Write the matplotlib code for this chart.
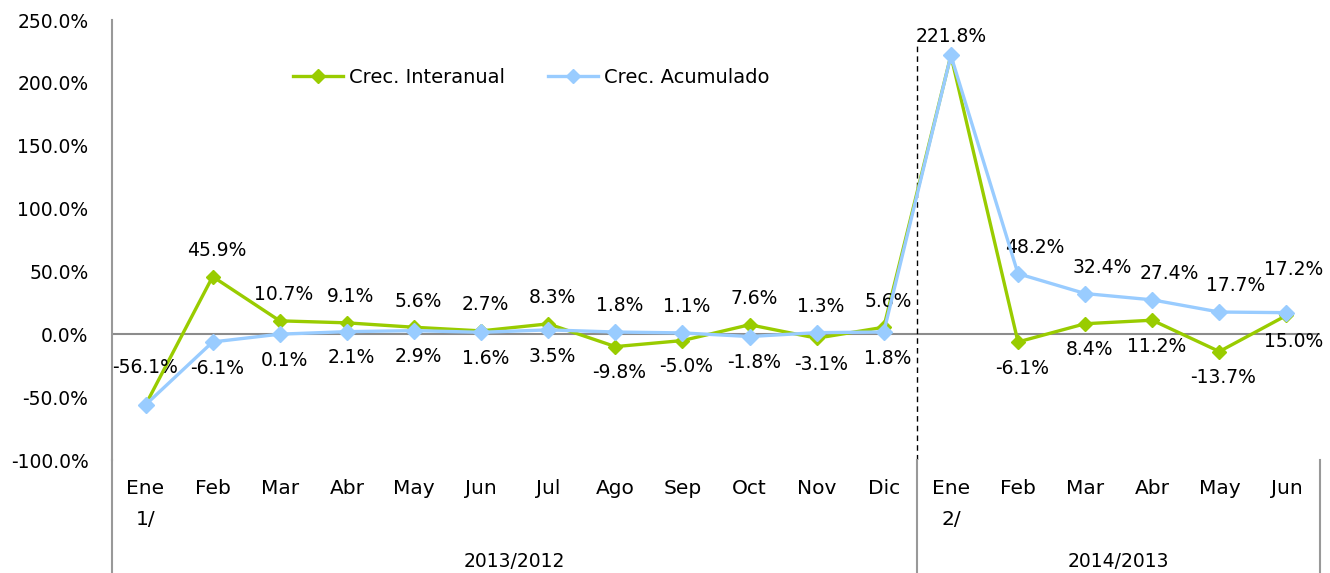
import numpy as np
import matplotlib
matplotlib.use("Agg")
import matplotlib.pyplot as plt
from matplotlib.ticker import FuncFormatter
from matplotlib.lines import Line2D

# Data
months = ["Ene\n1/", "Feb", "Mar", "Abr", "May", "Jun", "Jul", "Ago", "Sep", "Oct",
          "Nov", "Dic", "Ene\n2/", "Feb", "Mar", "Abr", "May", "Jun"]
interanual = [-56.1, 45.9, 10.7, 9.1, 5.6, 2.7, 8.3, -9.8, -5.0, 7.6, -3.1, 5.6,
              221.8, -6.1, 8.4, 11.2, -13.7, 15.0]
acumulado = [-56.1, -6.1, 0.1, 2.1, 2.9, 1.6, 3.5, 1.8, 1.1, -1.8, 1.3, 1.8,
             221.8, 48.2, 32.4, 27.4, 17.7, 17.2]
groups = ["2013/2012", "2014/2013"]
group_sizes = [12, 6]

GREEN = "#99CC00"
BLUE = "#99CCFF"
FS = 13.5

plt.rcParams["font.family"] = ["DejaVu Sans"]

fig = plt.figure(figsize=(13.3, 5.73), dpi=100)
ax = fig.add_axes([112 / 1330, 1 - 460 / 573, (1320 - 112) / 1330, 440 / 573])

x = np.arange(len(months))
ax.plot(x, interanual, color=GREEN, lw=2.4, marker="D", ms=7, zorder=3)
ax.plot(x, acumulado, color=BLUE, lw=2.4, marker="D", ms=8, zorder=4)

ax.set_xlim(-0.5, len(months) - 0.5)
ax.set_ylim(-100, 250)
ax.set_yticks(np.arange(-100, 251, 50))
ax.yaxis.set_major_formatter(FuncFormatter(lambda v, p: f"{v:.1f}%"))
ax.tick_params(axis="y", length=0, pad=17, labelsize=FS)
ax.set_xticks(x)
ax.set_xticklabels(months, fontsize=14.5, linespacing=1.75)
ax.tick_params(axis="x", length=0, pad=14)

for s in ["top", "right", "bottom"]:
    ax.spines[s].set_visible(False)
ax.spines["left"].set_color("#999999")
ax.spines["left"].set_linewidth(1.5)
ax.axhline(0, color="#8c8c8c", lw=1.5, zorder=1)

# data labels: higher series above, lower below
last = len(x) - 1
for i in range(len(x)):
    g, b = interanual[i], acumulado[i]
    if g == b:
        dy = 7 if g > 0 else 20
        ax.annotate(f"{g:.1f}%", (x[i], g), xytext=(0, dy), textcoords="offset points",
                    ha="center", va="bottom", fontsize=FS)
        continue
    for v, up in [(g, g > b), (b, b > g)]:
        dx = 12 if (11 < i < last and up) else (5 if i == last else 3)
        dy = 12 if up else -12
        if i == last and up:
            dy = 24
        ax.annotate(f"{v:.1f}%", (x[i], v), xytext=(dx, dy),
                    textcoords="offset points", ha="center",
                    va="bottom" if up else "top", fontsize=FS)

# group separators and labels
trans = ax.get_xaxis_transform()
ax.plot([11.5, 11.5], [0.0, 0.95], color="black", lw=1, ls=(0, (4, 3)), transform=trans)
start = -0.5
for name, n in zip(groups, group_sizes):
    ax.plot([start, start], [0, -0.26], color="#999999", lw=1.5, transform=trans, clip_on=False)
    ax.text(start + n / 2, -0.23, name, transform=trans, ha="center", va="center", fontsize=FS)
    start += n
ax.plot([start, start], [0, -0.26], color="#999999", lw=1.5, transform=trans, clip_on=False)

handles = [Line2D([], [], color=GREEN, lw=2.4, marker="D", ms=7),
           Line2D([], [], color=BLUE, lw=2.4, marker="D", ms=7)]
ax.legend(handles, ["Crec. Interanual", "Crec. Acumulado"], ncol=2, frameon=False,
          fontsize=14, loc="upper left", bbox_to_anchor=(0.135, 0.93),
          handlelength=2.6, columnspacing=2.2, handletextpad=0.3)

fig.savefig("out.png", dpi=100)
